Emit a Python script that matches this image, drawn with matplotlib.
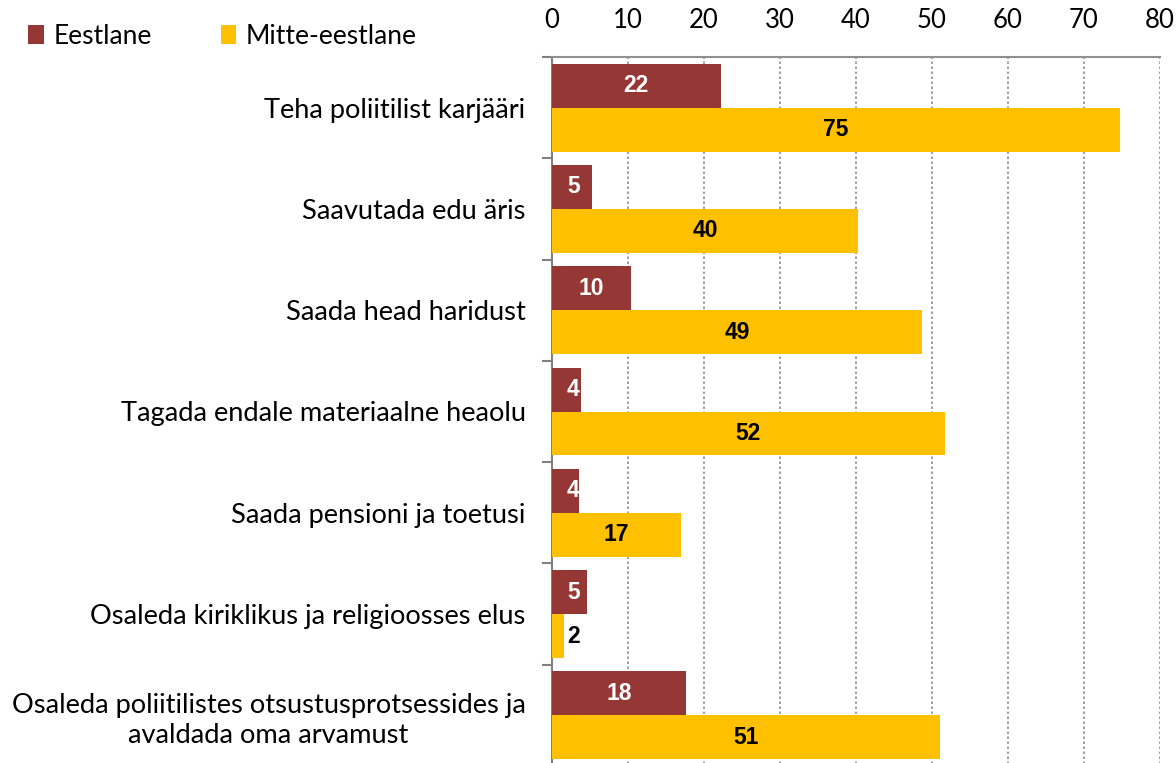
import numpy as np
import matplotlib.pyplot as plt

categories = [
    "Teha poliitilist karjääri",
    "Saavutada edu äris",
    "Saada head haridust",
    "Tagada endale materiaalne heaolu",
    "Saada pensioni ja toetusi",
    "Osaleda kiriklikus ja religioosses elus",
    "Osaleda poliitilistes otsustusprotsessides ja\navaldada oma arvamust",
]
eestlane = [22.2, 5.3, 10.4, 3.8, 3.6, 4.6, 17.6]
mitte_eestlane = [74.7, 40.3, 48.7, 51.7, 17.0, 1.6, 51.1]
series_names = ["Eestlane", "Mitte-eestlane"]
colors = ["#953735", "#FFC000"]

fig = plt.figure(figsize=(11.76, 7.63), dpi=100)
ax = fig.add_axes([552 / 1176, -3 / 763, 608 / 1176, 709 / 763])

n = len(categories)
y = np.arange(n)
h = 0.434

ax.barh(y - h / 2, eestlane, height=h, color=colors[0], label=series_names[0], zorder=3)
ax.barh(y + h / 2, mitte_eestlane, height=h, color=colors[1], label=series_names[1], zorder=3)

# value labels
for i in range(n):
    v = eestlane[i]
    ax.text(max(v / 2, 2.8), y[i] - h / 2, f"{v:.0f}", ha="center", va="center",
            color="white", fontsize=16.5, fontweight="bold", family="Liberation Sans", zorder=4)
    v = mitte_eestlane[i]
    ax.text(max(v / 2, 2.8), y[i] + h / 2, f"{v:.0f}", ha="center", va="center",
            color="black", fontsize=16.5, fontweight="bold", family="Liberation Sans", zorder=4)

ax.set_xlim(0, 80)
ax.set_ylim(n - 0.5, -0.5)
ax.set_xticks(np.arange(0, 81, 10))
ax.xaxis.tick_top()
ax.tick_params(axis="x", length=0, pad=17, labelsize=18.5)
for lbl in ax.get_xticklabels():
    lbl.set_family("Lato")

ax.set_yticks(np.arange(-0.5, n, 1), minor=False)
ax.set_yticklabels([])
ax.tick_params(axis="y", length=7, color="#808080", width=1.5)
ax.set_yticks(y, minor=True)
ax.set_yticklabels(categories, minor=True, fontsize=19.6, family="Lato", ha="right",
                   multialignment="center", linespacing=1.25)
ax.tick_params(axis="y", which="minor", length=0, pad=19)

ax.grid(axis="x", color="#909090", linestyle=(0, (1.5, 1.5)), linewidth=1.2, zorder=0)
ax.spines["right"].set_visible(False)
ax.spines["bottom"].set_visible(False)
ax.spines["top"].set_color("#909090")
ax.spines["left"].set_color("#808080")
ax.spines["top"].set_linewidth(1.5)
ax.spines["left"].set_linewidth(1.5)

fig.legend(loc="upper left", bbox_to_anchor=(0.004, 1.0), ncol=2, frameon=False,
           prop={"family": "Lato", "size": 19}, handlelength=0.6, handleheight=0.7,
           handletextpad=0.35, columnspacing=2.6)

fig.savefig("out.png", dpi=100)
